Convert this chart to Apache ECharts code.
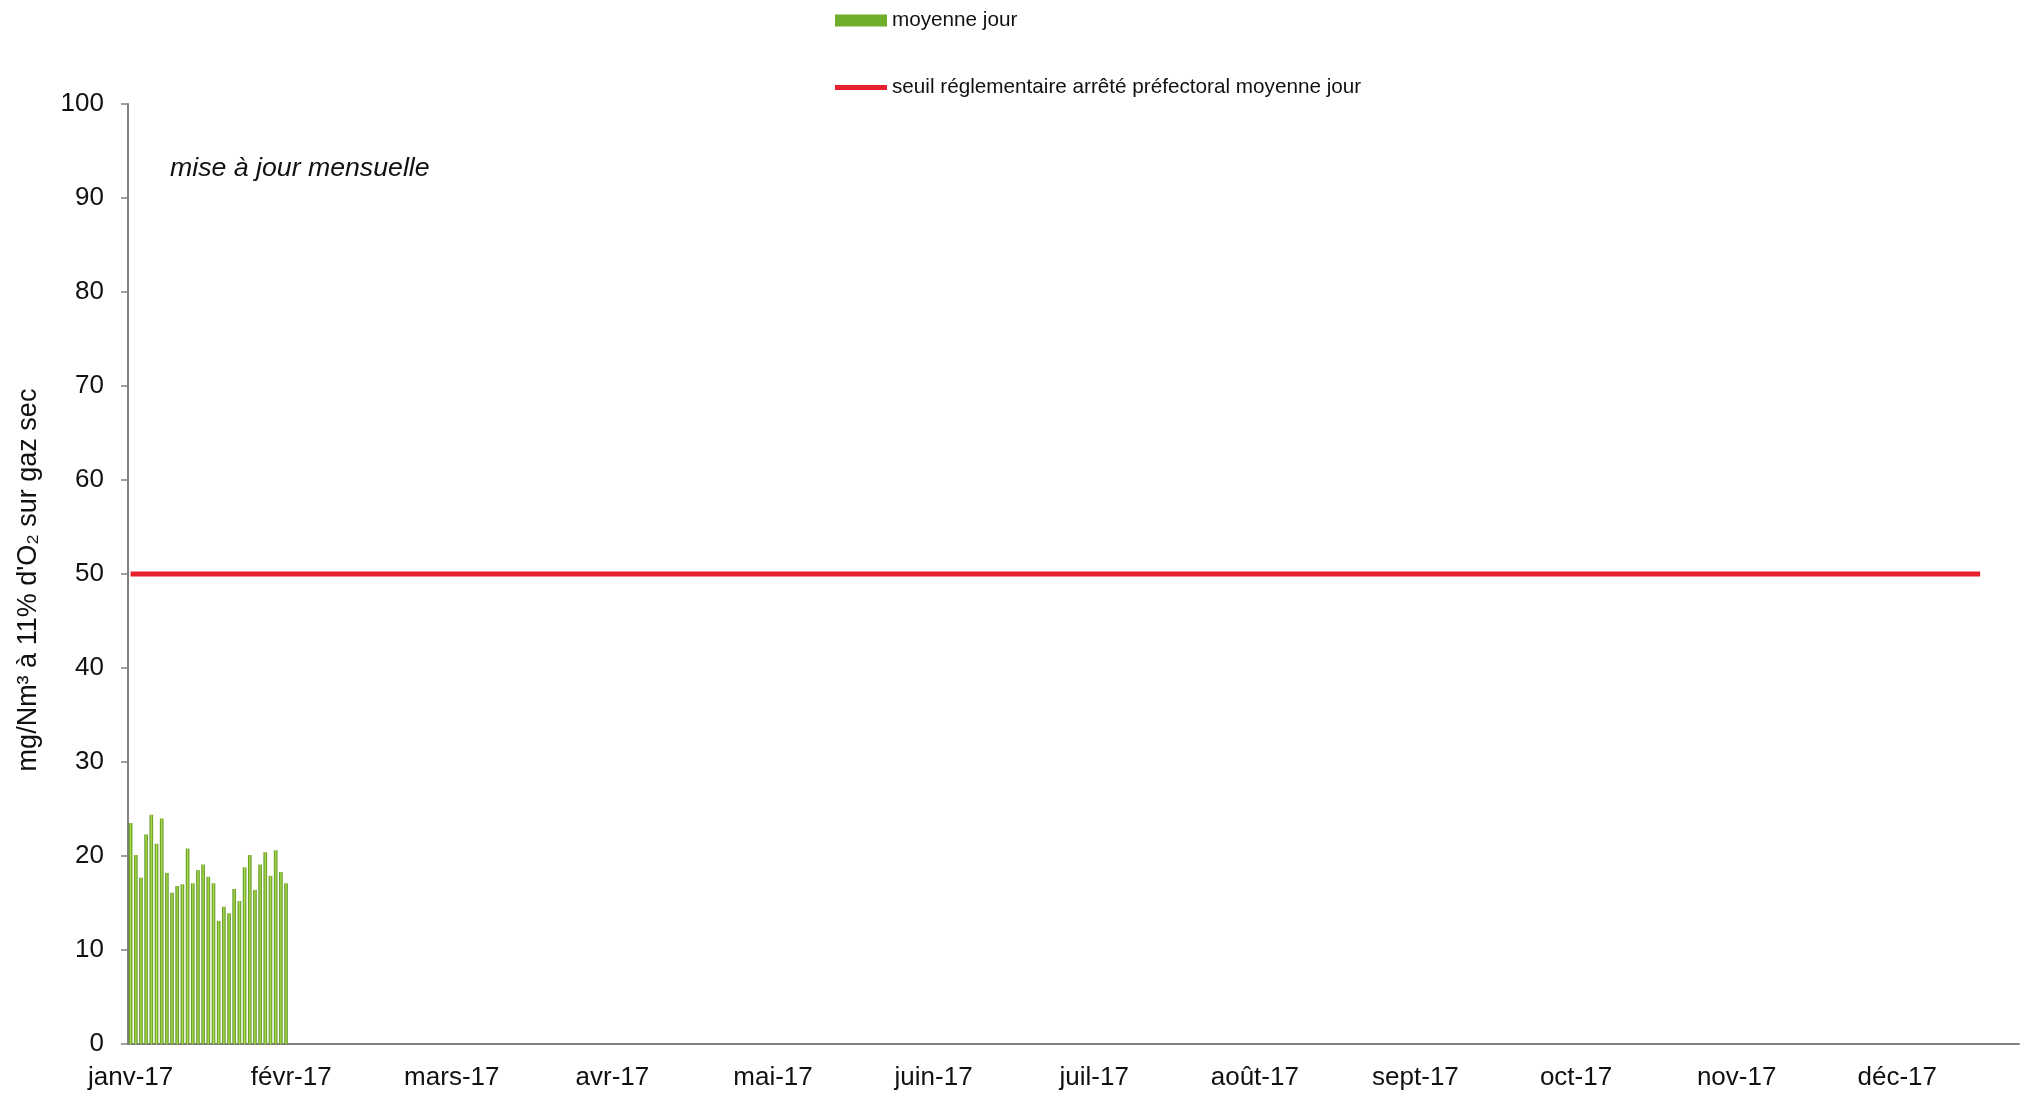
<!DOCTYPE html>
<html>
<head>
<meta charset="utf-8">
<script src="https://cdn.jsdelivr.net/npm/echarts@6/dist/echarts.min.js"></script>
<style>
html,body{margin:0;padding:0;background:#fff;}
#chart{width:2034px;height:1094px;}
</style>
</head>
<body>
<div id="chart"></div>
<script>
// Month tick labels (one label every 31 days)
const monthLabels = ['janv-17','févr-17','mars-17','avr-17','mai-17','juin-17','juil-17','août-17','sept-17','oct-17','nov-17','déc-17'];
// Daily averages, January 2017 (mg/Nm3 at 11% O2, dry gas)
const dailyMeans = [23.5,20.1,17.7,22.3,24.4,21.3,24.0,18.2,16.1,16.8,17.0,20.8,17.1,18.5,19.1,17.8,17.1,13.1,14.6,13.9,16.5,15.2,18.8,20.1,16.4,19.1,20.4,17.9,20.6,18.3,17.1];
// Regulatory threshold (daily average) : start / end day index and value
const thresholdValue = 50;
const thresholdDays = [0, 357];
const dayCount = 365;
const yTicks = {min:0, max:100, interval:10};

// category axis: one category per day of 2017
const days = [];
for (let i = 0; i < dayCount; i++) {
  const d = new Date(Date.UTC(2017, 0, 1 + i));
  days.push(d.toISOString().slice(0,10));
}
const thresholdData = thresholdDays.map(i => [i, thresholdValue]);

const FONT = "'Liberation Sans', Arial, sans-serif";
const chart = echarts.init(document.getElementById('chart'), null, {renderer:'canvas'});
const barColor = new echarts.graphic.LinearGradient(0,0,1,0,[
  {offset:0, color:'#4a8a18'},
  {offset:0.5, color:'#b0dc4c'},
  {offset:1, color:'#4a8a18'}
]);
chart.setOption({
  animation:false,
  backgroundColor:'#ffffff',
  textStyle:{fontFamily:FONT},
  grid:{left:128, right:15, top:104, bottom:50, containLabel:false},
  legend:[{
    data:[{name:'moyenne jour', icon:'rect', itemStyle:{color:'#6fae2b'}}],
    left:830, top:5, itemWidth:52, itemHeight:12, itemGap:6,
    textStyle:{fontFamily:FONT, fontSize:20.7, color:'#111'}
  },{
    data:[{name:'seuil réglementaire arrêté préfectoral moyenne jour', icon:'rect', itemStyle:{color:'#e8202e'}}],
    left:830, top:72, itemWidth:52, itemHeight:5, itemGap:6,
    textStyle:{fontFamily:FONT, fontSize:20.7, color:'#111'}
  }],
  xAxis:{
    type:'category',
    data:days,
    boundaryGap:true,
    axisLine:{show:true, onZero:true, lineStyle:{color:'#808080', width:2}},
    axisTick:{show:false},
    splitLine:{show:false},
    axisLabel:{
      interval:30,
      margin:21,
      fontFamily:FONT, fontSize:26, color:'#111',
      formatter:function(val, idx){ return monthLabels[Math.round(idx/31)] || ''; }
    }
  },
  yAxis:{
    type:'value',
    min:yTicks.min, max:yTicks.max, interval:yTicks.interval,
    axisLine:{show:true, lineStyle:{color:'#808080', width:2}},
    axisTick:{show:true, length:7, lineStyle:{color:'#808080', width:1.5}},
    splitLine:{show:false},
    axisLabel:{margin:24, fontFamily:FONT, fontSize:26, color:'#111'},
    name:'mg/Nm³ à 11% d\'O₂ sur gaz sec',
    nameLocation:'middle',
    nameGap:86,
    nameRotate:90,
    nameTextStyle:{fontFamily:FONT, fontSize:27, color:'#111', padding:[0,12,0,0]}
  },
  graphic:[{
    type:'text', left:170, top:155,
    style:{text:'mise à jour mensuelle', fontFamily:FONT, fontSize:26.7, fontStyle:'italic', fill:'#111'}
  }],
  series:[{
    name:'moyenne jour',
    type:'bar',
    data:dailyMeans,
    barWidth:3.6,
    itemStyle:{color:barColor},
    z:2
  },{
    name:'seuil réglementaire arrêté préfectoral moyenne jour',
    type:'line',
    data:thresholdData,
    symbol:'none',
    lineStyle:{color:'#e8202e', width:5},
    itemStyle:{color:'#e8202e'},
    z:3
  }]
});
</script>
</body>
</html>
